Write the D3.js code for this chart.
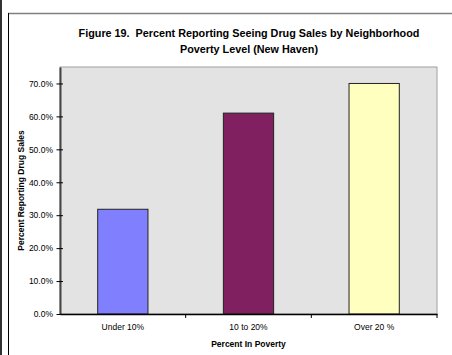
<!DOCTYPE html>
<html>
<head>
<meta charset="utf-8">
<script src="https://cdn.jsdelivr.net/npm/d3@7"></script>
<style>
  html, body { margin: 0; padding: 0; background: #fff; }
  svg { display: block; font-family: "Liberation Sans", Arial, sans-serif; }
  .title { white-space: pre; }
</style>
</head>
<body>
<svg id="chart" width="452" height="355"></svg>
<script>
// Data
const categories = ["Under 10%", "10 to 20%", "Over 20 %"];
const values = [0.318, 0.610, 0.700];
const barColors = ["#8080FF", "#802060", "#FFFFC0"];
const yTicks = [0, 0.1, 0.2, 0.3, 0.4, 0.5, 0.6, 0.7];
const titleLines = ["Figure 19.  Percent Reporting Seeing Drug Sales by Neighborhood", "Poverty Level (New Haven)"];
const xTitle = "Percent In Poverty";
const yTitle = "Percent Reporting Drug Sales";

const svg = d3.select("#chart");
const fontStack = "'Liberation Sans', Arial, sans-serif";

// Page edge strip and chart frame
svg.append("rect").attr("x", 0).attr("y", 0).attr("width", 2).attr("height", 355).attr("fill", "#333");
svg.append("line").attr("x1", 8).attr("x2", 452).attr("y1", 13.5).attr("y2", 13.5)
  .attr("stroke", "#808080").attr("stroke-width", 1.5);
svg.append("line").attr("x1", 8.5).attr("x2", 8.5).attr("y1", 13).attr("y2", 355)
  .attr("stroke", "#000").attr("stroke-width", 1);

const plot = { left: 60, right: 437, top: 67, bottom: 314 };

const x = d3.scaleBand().domain(categories).range([plot.left, plot.right]).paddingInner(0.6).paddingOuter(0.3);
const y = d3.scaleLinear().domain([0, 0.75]).range([plot.bottom, plot.top]);

// Plot area
svg.append("rect").attr("x", plot.left).attr("y", plot.top)
  .attr("width", plot.right - plot.left).attr("height", plot.bottom - plot.top)
  .attr("fill", "#E3E3E3").attr("stroke", "#A0A0A0").attr("stroke-width", 1);

// Bars
svg.append("g").selectAll("rect").data(values).join("rect")
  .attr("x", (d, i) => x(categories[i]))
  .attr("y", d => y(d))
  .attr("width", x.bandwidth())
  .attr("height", d => y(0) - y(d))
  .attr("fill", (d, i) => barColors[i])
  .attr("stroke", "#222").attr("stroke-width", 1);

// Y axis
const yAxis = d3.axisLeft(y).tickValues(yTicks).tickFormat(d3.format(".1%")).tickSize(0).tickPadding(7);
const gy = svg.append("g").attr("transform", `translate(${plot.left},0)`).call(yAxis);
gy.select(".domain").attr("stroke", "#444").attr("stroke-width", 2);
gy.selectAll(".tick text").attr("font-size", 8.5).attr("fill", "#000").attr("font-family", fontStack);
gy.selectAll(".tick").append("line").attr("x1", -3.5).attr("x2", 3).attr("stroke", "#000");

// X axis
const band = (plot.right - plot.left) / categories.length;
const xAxis = d3.axisBottom(x).tickSize(0).tickPadding(10);
const gx = svg.append("g").attr("transform", `translate(0,${plot.bottom})`).call(xAxis);
gx.select(".domain").attr("stroke", "#000").attr("stroke-width", 1.5);
gx.selectAll(".tick text").attr("font-size", 8.5).attr("fill", "#000").attr("font-family", fontStack);
gx.selectAll(".sep").data(d3.range(1, categories.length + 1)).join("line")
  .attr("x1", i => plot.left + band * i).attr("x2", i => plot.left + band * i)
  .attr("y1", 0).attr("y2", 4).attr("stroke", "#000");

// Titles
const title = svg.append("text").attr("class", "title").attr("x", 249).attr("text-anchor", "middle")
  .attr("font-size", 10.8).attr("font-weight", "bold");
titleLines.forEach((t, i) => title.append("tspan").attr("x", 249).attr("y", 37 + i * 16).text(t));

svg.append("text").attr("x", (plot.left + plot.right) / 2).attr("y", 347)
  .attr("text-anchor", "middle").attr("font-size", 8.5).attr("font-weight", "bold").text(xTitle);

svg.append("text").attr("transform", `translate(24,${(plot.top + plot.bottom) / 2}) rotate(-90)`)
  .attr("text-anchor", "middle").attr("font-size", 8.5).attr("font-weight", "bold").text(yTitle);
</script>
</body>
</html>
